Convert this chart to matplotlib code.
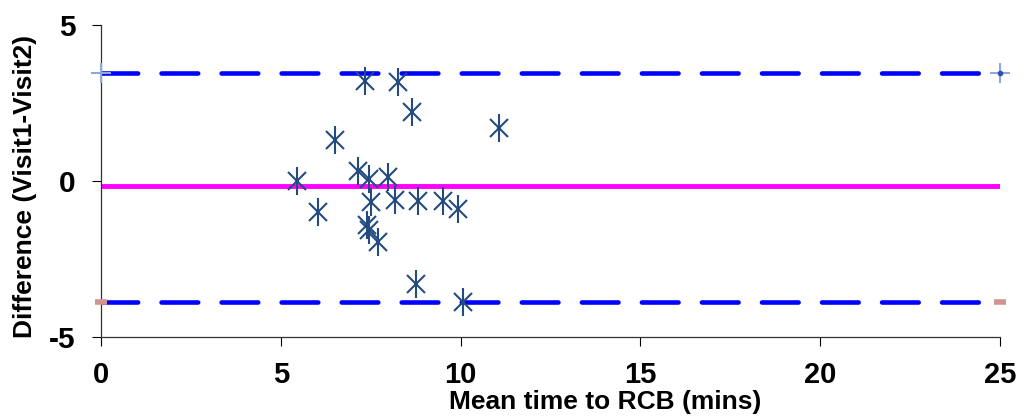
import matplotlib
matplotlib.use('Agg')
import matplotlib.pyplot as plt
import numpy as np

plt.rcParams['font.family'] = ['Liberation Sans', 'DejaVu Sans']
plt.rcParams['axes.unicode_minus'] = False

# mean of the two visits (mins) and difference visit1-visit2
mean_time = [7.34, 8.27, 8.64, 11.06, 6.51, 7.14, 7.46, 7.99, 5.44, 7.51,
             8.18, 8.81, 9.52, 9.94, 6.04, 7.41, 7.45, 7.71, 8.76, 10.08]
diff = [3.21, 3.18, 2.20, 1.71, 1.31, 0.32, 0.05, 0.12, 0.01, -0.66,
        -0.61, -0.64, -0.64, -0.91, -0.98, -1.41, -1.57, -1.95, -3.30, -3.89]

bias = -0.17
upper_loa = 3.45
lower_loa = -3.88
line_x = [0, 25]

x_ticks = [0, 5, 10, 15, 20, 25]
y_ticks = [-5, 0, 5]

fig = plt.figure(figsize=(10.23, 4.16), dpi=100)
ax = fig.add_axes([101 / 1023, 1 - 337 / 416, 899 / 1023, 312 / 416])

# limits of agreement
for loa in [upper_loa, lower_loa]:
    ax.plot(line_x, [loa, loa], color='#0000ff', lw=3.3,
            dashes=(8.0, 5.1), dash_capstyle='round', zorder=2)
ax.plot(line_x, [upper_loa, upper_loa], ls='none', marker='+', ms=15,
        mew=1.5, color='#8fa8d8', zorder=3, clip_on=False)
ax.plot([25], [upper_loa], ls='none', marker='o', ms=3, color='#3050b0',
        zorder=4, clip_on=False)
ax.plot(line_x, [lower_loa, lower_loa], ls='none', marker='_', ms=9,
        mew=4, color='#d09494', zorder=3, clip_on=False)

# mean difference
ax.plot(line_x, [bias, bias], color='#ff00ff', lw=3.5,
        solid_capstyle='round', zorder=2)

# points
ax.plot(mean_time, diff, ls='none', marker='x', ms=13.5, mew=1.5,
        color='#234b80', zorder=5)
ax.plot(mean_time, diff, ls='none', marker='|', ms=19.5, mew=1.5,
        color='#234b80', zorder=5)

ax.set_xlim(0, 25)
ax.set_ylim(-5, 5)
ax.set_xticks(x_ticks)
ax.set_yticks(y_ticks)
ax.tick_params(axis='x', direction='out', length=6.5, width=0.8, pad=11,
               labelsize=21)
ax.tick_params(axis='y', direction='out', length=6.5, width=0.8, pad=12,
               labelsize=21.5)
for lab in ax.get_xticklabels() + ax.get_yticklabels():
    lab.set_fontweight('bold')

for side in ['top', 'right']:
    ax.spines[side].set_visible(False)
for side in ['left', 'bottom']:
    ax.spines[side].set_linewidth(0.9)
    ax.spines[side].set_color('#333333')

fig.text(605 / 1023, 1 - 402 / 416, 'Mean time to RCB (mins)', ha='center',
         va='center', fontsize=19, fontweight='bold')
fig.text(25 / 1023, 1 - 186 / 416, 'Difference (Visit1-Visit2)', ha='center',
         va='center', rotation=90, fontsize=19, fontweight='bold')

fig.savefig('out.png', dpi=100)
